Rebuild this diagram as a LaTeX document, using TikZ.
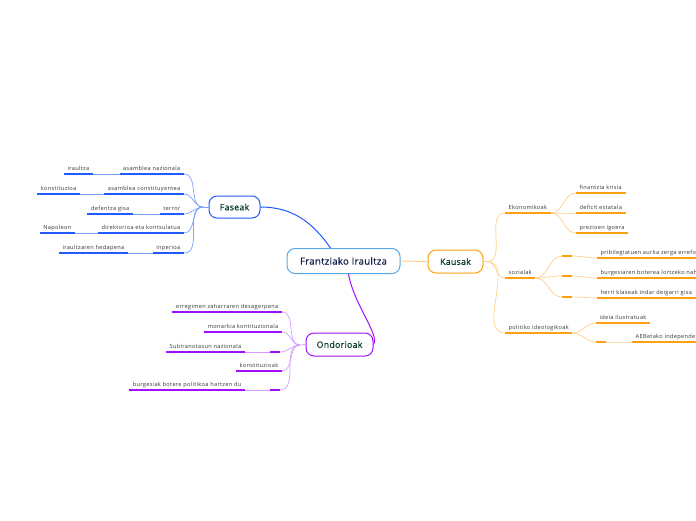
\documentclass[tikz,border=0pt]{standalone}
\usepackage{fontspec}
\setmainfont{Open Sans}
\newfontfamily\leaffont{Open Sans}[LetterSpace=6]
\newfontfamily\mainfont{Open Sans}[LetterSpace=3,FakeBold=0.4]
\usepackage{tikz}
\usetikzlibrary{arrows.meta,positioning}
\definecolor{bluestrong}{HTML}{1F5BFF}
\definecolor{bluelight}{HTML}{7DA2FF}
\definecolor{purstrong}{HTML}{A010FF}
\definecolor{purlight}{HTML}{D49BFF}
\definecolor{orastrong}{HTML}{FFA010}
\definecolor{oralight}{HTML}{FFCF8A}
\definecolor{centralline}{HTML}{5AA9E6}
\definecolor{maintext}{HTML}{0B3B2C}
\definecolor{centraltext}{HTML}{13224A}
\definecolor{leaftext}{HTML}{333333}
\tikzset{
mainbox/.style={draw,rounded corners=8pt,fill=white,line width=1pt,align=center,inner sep=0pt,font=\mainfont\fontsize{8.8}{10}\selectfont,text=maintext},
leaf/.style={font=\leaffont\fontsize{5.6}{6}\selectfont,text=leaftext,inner xsep=3.5pt,inner ysep=2.6pt,text height=4pt,text depth=1.2pt},
empty/.style={inner sep=0pt,minimum width=10pt,minimum height=0pt},
blueline/.style={draw=bluestrong,line width=1.5pt},
purline/.style={draw=purstrong,line width=1.5pt},
oraline/.style={draw=orastrong,line width=1.5pt},
bluelink/.style={draw=bluelight,line width=.7pt},
purlink/.style={draw=purlight,line width=.7pt},
oralink/.style={draw=oralight,line width=.7pt}
}
\begin{document}
\begin{tikzpicture}[x=1pt,y=-1pt]
\useasboundingbox (0,0) rectangle (696,520);
% main topics
\node[mainbox,draw=centralline,text=centraltext,minimum width=113pt,minimum height=25pt,font=\mainfont\fontsize{9.6}{11}\selectfont] (central) at (343.5,261) {Frantziako Iraultza};
\node[mainbox,draw=bluestrong,minimum width=51pt,minimum height=22pt] (faseak) at (234.5,207) {Faseak};
\node[mainbox,draw=orastrong,minimum width=55pt,minimum height=23pt] (kausak) at (455.5,261.5) {Kausak};
\node[mainbox,draw=purstrong,minimum width=67pt,minimum height=23pt] (ondorioak) at (339.5,344.5) {Ondorioak};

% Faseak
\coordinate (fasfan) at (203,207);
\node[leaf,anchor=south east] (f1) at (184,174) {asamblea nazionala};
\node[leaf,anchor=south east] (f2) at (184,194) {asamblea constituyentea};
\node[leaf,anchor=south east] (f3) at (184,214) {terror};
\node[leaf,anchor=south east] (f4) at (184,233) {direktorioa eta kontsulatua};
\node[leaf,anchor=south east] (f5) at (184,253) {inperioa};
\node[leaf,anchor=south east] (g1) at (93,174) {iraultza};
\node[leaf,anchor=south east] (g2) at (80,194) {konstituzioa};
\node[leaf,anchor=south east] (g3) at (133,214) {defentza gisa};
\node[leaf,anchor=south east] (g4) at (75,233) {Napoleon};
\node[leaf,anchor=south east] (g5) at (128,253) {iraultzaren hedapena};

% Ondorioak
\coordinate (ondfan) at (300,345);
\node[leaf,anchor=south east] (o1) at (282,312) {erregimen zaharraren desagerpena};
\node[leaf,anchor=south east] (o2) at (282,332) {monarkia kontituzionala};
\node[empty,anchor=south east] (o3) at (280,352) {};
\node[leaf,anchor=south east] (o4) at (282,371) {konstituzioak};
\node[empty,anchor=south east] (o5) at (280,390) {};
\node[leaf,anchor=south east] (p3) at (245,352) {Subiranotasun nazionala};
\node[leaf,anchor=south east] (p5) at (245,390) {burgesiak botere politikoa hartzen du};

% Kausak
\coordinate (kaufan) at (487,261.5);
\node[leaf,anchor=south west] (k1) at (505,213) {Ekonomikoak};
\node[leaf,anchor=south west] (k2) at (505,278) {sozialak};
\node[leaf,anchor=south west] (k3) at (505,333) {politiko ideologikoak};
\node[leaf,anchor=south west] (e1) at (576,193) {finantzia krisia};
\node[leaf,anchor=south west] (e2) at (576,213) {deficit estatala};
\node[leaf,anchor=south west] (e3) at (576,233) {prezioen igoera};
\node[empty,anchor=south west] (s1) at (562,256) {};
\node[empty,anchor=south west] (s2) at (562,276) {};
\node[empty,anchor=south west] (s3) at (562,297) {};
\node[leaf,anchor=south west] (t1) at (597,258) {pribilegiatuen aurka zerga erreforma};
\node[leaf,anchor=south west] (t2) at (597,278) {burgesiaren boterea lortzeko nahia};
\node[leaf,anchor=south west] (t3) at (597,298) {herri klaseak indar deigarri gisa};
\node[leaf,anchor=south west] (i1) at (596,323) {ideia ilustratuak};
\node[empty,anchor=south west] (i2) at (596,342) {};
\node[leaf,anchor=south west] (j2) at (632,342) {AEBetako independentzia};

% connectors
\draw[draw=bluestrong,line width=1pt] (faseak.east) to[out=0,in=125] ([xshift=-13pt]central.north);
\draw[draw=purstrong,line width=1pt] ([xshift=5pt]central.south) .. controls (354,305) and (380,335) .. (ondorioak.east);
\draw[draw=oralight,line width=1pt] (central.east) -- (kausak.west);

\draw[bluelink] (faseak.west) -- (fasfan);
\foreach \n in {f1,f2,f3,f4,f5}
  \draw[bluelink] (fasfan) to[out=180,in=0] (\n.south east);
\foreach \a/\b in {f1/g1,f2/g2,f3/g3,f4/g4,f5/g5}
  \draw[bluelink] (\a.south west) -- (\b.south east);

\draw[purlink] (ondorioak.west) -- (ondfan);
\foreach \n in {o1,o2,o3,o4,o5}
  \draw[purlink] (ondfan) to[out=180,in=0] (\n.south east);
\foreach \a/\b in {o3/p3,o5/p5}
  \draw[purlink] (\a.south west) -- (\b.south east);

\draw[oralink] (kausak.east) -- (kaufan);
\foreach \n in {k1,k2,k3}
  \draw[oralink] (kaufan) to[out=0,in=180] (\n.south west);
\foreach \n in {e1,e2,e3}
  \draw[oralink] (k1.south east) to[out=0,in=180] (\n.south west);
\foreach \n in {s1,s2,s3}
  \draw[oralink] (k2.south east) to[out=0,in=180] (\n.south west);
\foreach \a/\b in {s1/t1,s2/t2,s3/t3,i2/j2}
  \draw[oralink] (\a.south east) to[out=0,in=180] (\b.south west);
\foreach \n in {i1,i2}
  \draw[oralink] (k3.south east) to[out=0,in=180] (\n.south west);

% underlines
\foreach \n in {f1,f2,f3,f4,f5,g1,g2,g3,g4,g5}
  \draw[blueline] (\n.south west) -- (\n.south east);
\foreach \n in {o1,o2,o3,o4,o5,p3,p5}
  \draw[purline] (\n.south west) -- (\n.south east);
\foreach \n in {k1,k2,k3,e1,e2,e3,s1,s2,s3,t1,t2,t3,i1,i2,j2}
  \draw[oraline] (\n.south west) -- (\n.south east);
\end{tikzpicture}
\end{document}
